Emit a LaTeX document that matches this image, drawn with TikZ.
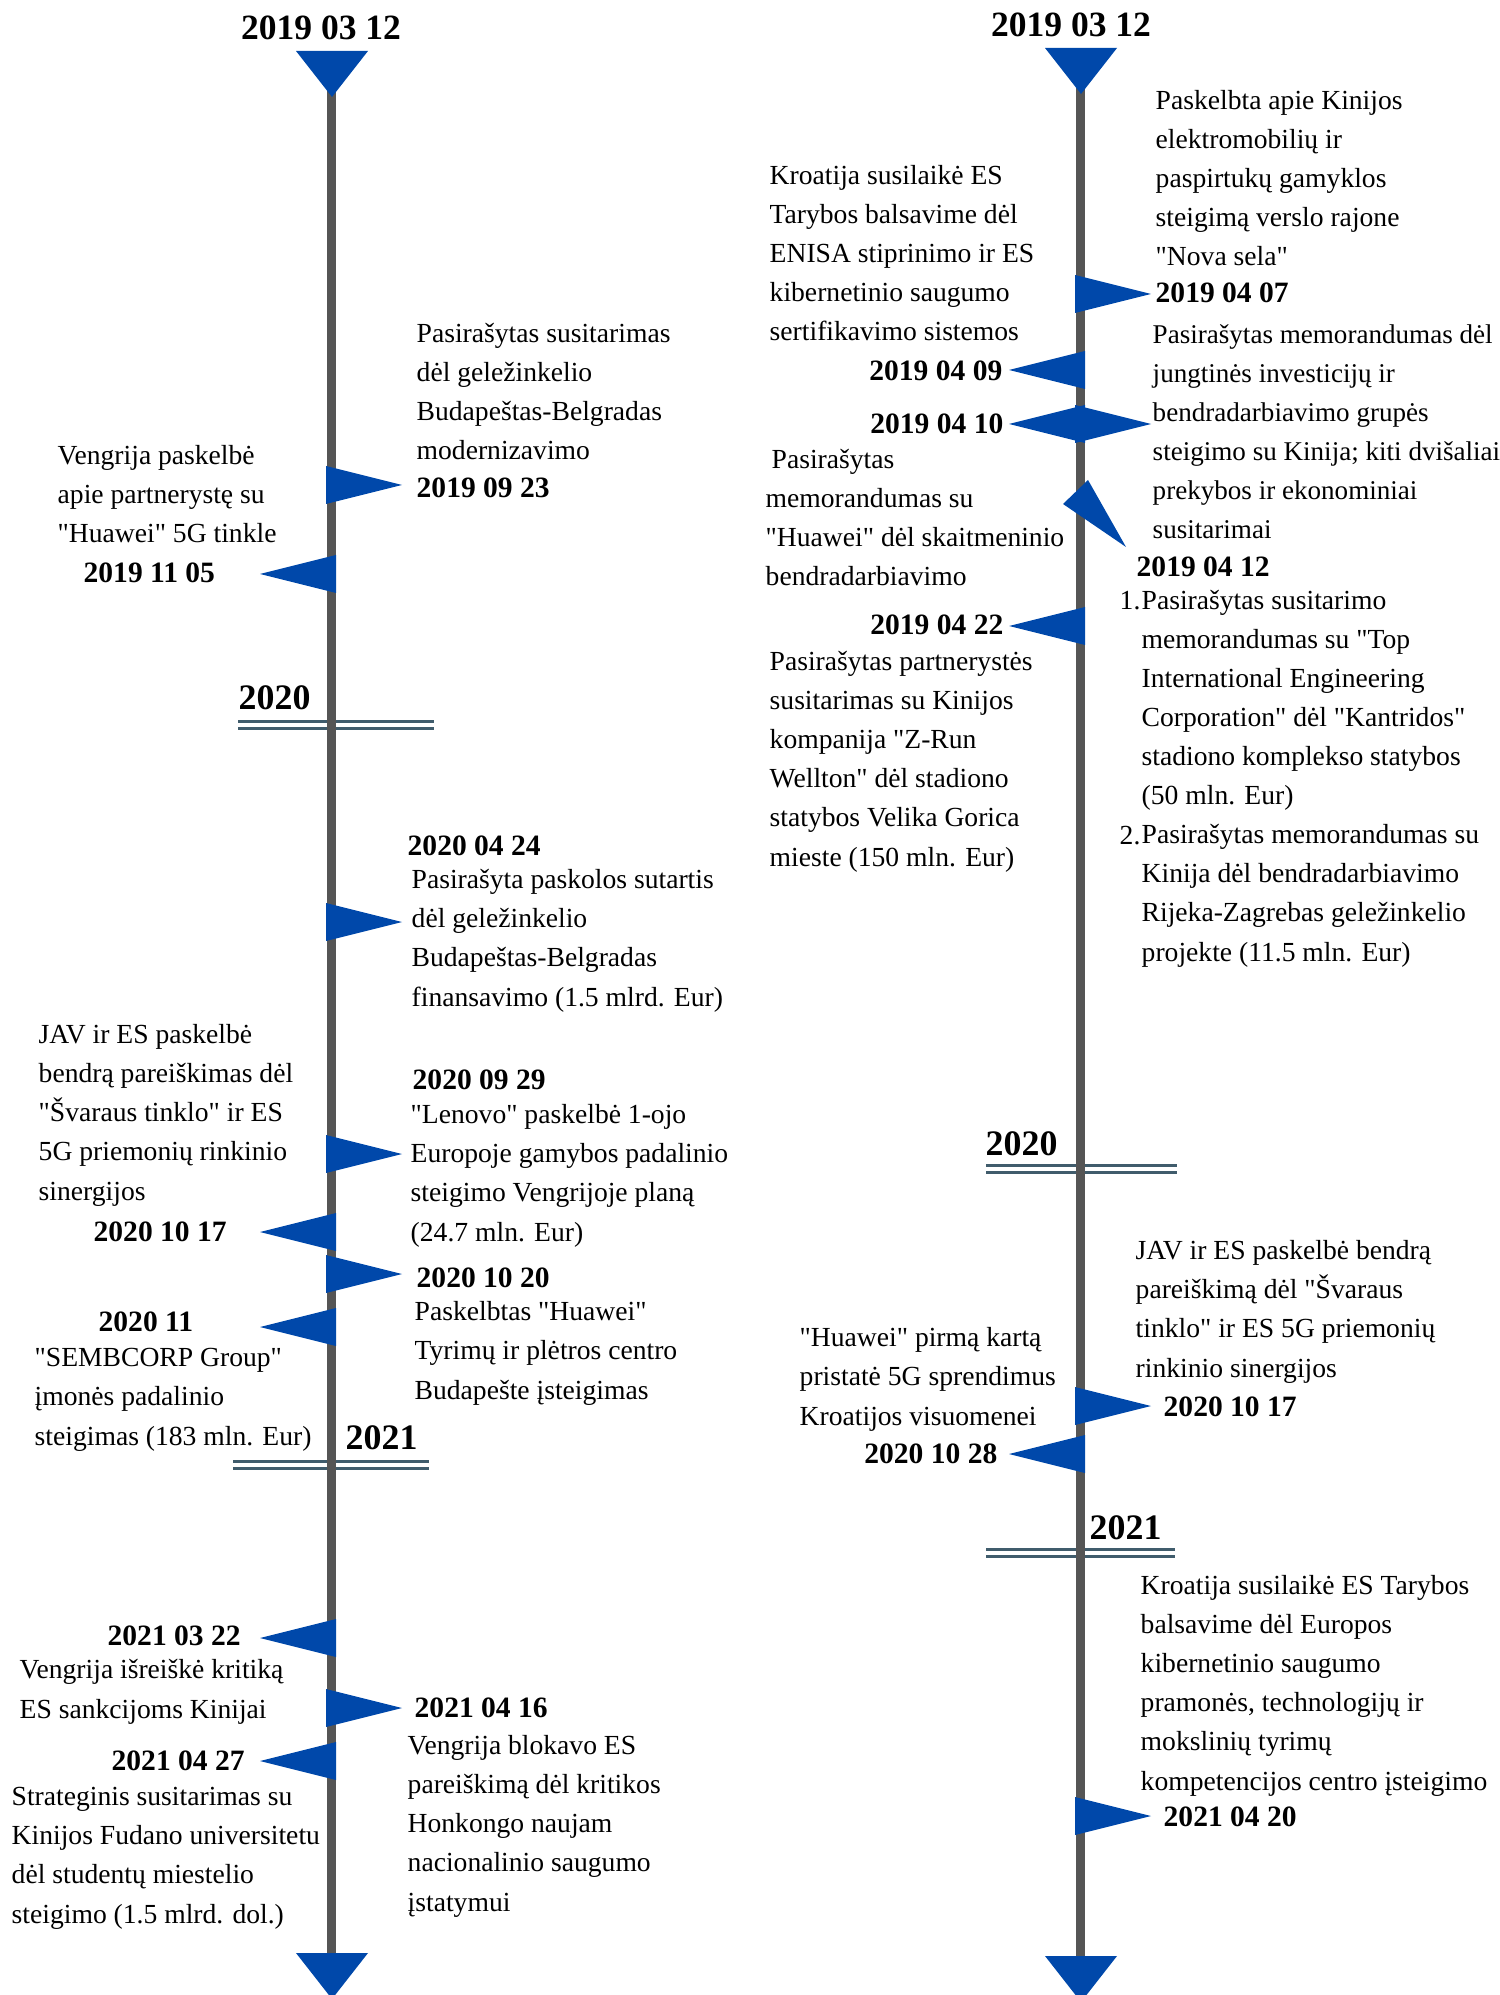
\documentclass[tikz,border=0pt]{standalone}
\usepackage{fontspec}
\setmainfont{Liberation Serif}

\definecolor{flagblue}{RGB}{0,72,170}
\definecolor{axisgray}{RGB}{85,85,85}
\definecolor{yearline}{RGB}{64,92,108}

\tikzset{
    axisline/.style={axisgray, line width=0.09cm},
    yearbar/.style={yearline, line width=0.03cm, double=white, double distance=0.045cm},
    evt/.style={font=\fontsize{7.85}{11.1}\selectfont, align=left, inner sep=0pt, anchor=base west},
    datelbl/.style={font=\fontsize{8.4}{10}\selectfont\bfseries, inner sep=0pt, anchor=base west},
    bigdate/.style={font=\fontsize{10.1}{12}\selectfont\bfseries, inner sep=0pt, anchor=base},
    yearlbl/.style={font=\fontsize{10.2}{12}\selectfont\bfseries, inner sep=0pt, anchor=base west}
}

% straight quote
\newcommand{\dq}{\textquotedbl}
% flags on an axis: #1 = axis x, #2 = y
\newcommand{\rflag}[2]{\fill[flagblue] (#1-5,#2-19) -- (#1+71,#2) -- (#1-5,#2+19) -- cycle;}
\newcommand{\lflag}[2]{\fill[flagblue] (#1+5,#2-19) -- (#1-71,#2) -- (#1+5,#2+19) -- cycle;}
\newcommand{\tipmark}[2]{\fill[flagblue] (#1-36,#2) -- (#1+36,#2) -- (#1,#2+46) -- cycle;}

\begin{document}
\begin{tikzpicture}[x=0.01cm, y=-0.01cm]
    \useasboundingbox (0,0) rectangle (1499,1995);

    % Year separators
    \draw[yearbar] (238,725) -- (434,725);
    \draw[yearbar] (233,1465) -- (429,1465);
    \draw[yearbar] (986,1169) -- (1177,1169);
    \draw[yearbar] (986,1553) -- (1175,1553);

    % Axes
    \draw[axisline] (331,90) -- (331,1960);
    \draw[axisline] (1080,88) -- (1080,1962);
    \tipmark{332}{51}
    \tipmark{332}{1953}
    \tipmark{1081}{48}
    \tipmark{1081}{1956}

    % Left flags
    \rflag{331}{485}
    \lflag{331}{574}
    \rflag{331}{922}
    \rflag{331}{1154}
    \lflag{331}{1232}
    \rflag{331}{1274}
    \lflag{331}{1327}
    \lflag{331}{1638}
    \rflag{331}{1708}
    \lflag{331}{1761}

    % Right flags
    \rflag{1080}{294}
    \lflag{1080}{370}
    \lflag{1080}{424}
    \rflag{1080}{424}
    \fill[flagblue] (1063,504) -- (1088,480) -- (1126,547) -- cycle;
    \lflag{1080}{626}
    \rflag{1080}{1406}
    \lflag{1080}{1454}
    \rflag{1080}{1816}

    % Left timeline labels (multi-line texts sit on their last line)
    \node[bigdate] (ltop) at (321,40) {2019 03 12};
    \node[evt] (lt0923) at (416,460) {Pasirašytas susitarimas\\dėl geležinkelio\\Budapeštas-Belgradas\\modernizavimo};
    \node[datelbl] (ld0923) at (416,498) {2019 09 23};
    \node[evt] (lt1105) at (57,543) {Vengrija paskelbė\\apie partnerystę su\\\dq Huawei\dq{} 5G tinkle};
    \node[datelbl] (ld1105) at (83,583) {2019 11 05};
    \node[yearlbl] (ly2020) at (238,709) {2020};
    \node[datelbl] (ld0424) at (407,855) {2020 04 24};
    \node[evt] (lt0424) at (411,1006) {Pasirašyta paskolos sutartis\\dėl geležinkelio\\Budapeštas-Belgradas\\finansavimo (1.5 mlrd. Eur)};
    \node[datelbl] (ld0929) at (412,1089) {2020 09 29};
    \node[evt] (lt0929) at (410,1241) {\dq Lenovo\dq{} paskelbė 1-ojo\\Europoje gamybos padalinio\\steigimo Vengrijoje planą\\(24.7 mln. Eur)};
    \node[evt] (lt1017) at (38,1200) {JAV ir ES paskelbė\\bendrą pareiškimas dėl\\\dq Švaraus tinklo\dq{} ir ES\\5G priemonių rinkinio\\sinergijos};
    \node[datelbl] (ld1017) at (93,1241) {2020 10 17};
    \node[datelbl] (ld1020) at (416,1287) {2020 10 20};
    \node[evt] (lt1020) at (414,1399) {Paskelbtas \dq Huawei\dq\\Tyrimų ir plėtros centro\\Budapešte įsteigimas};
    \node[datelbl] (ld11) at (98,1331) {2020 11};
    \node[evt] (lt11) at (34,1445) {\dq SEMBCORP Group\dq\\įmonės padalinio\\steigimas (183 mln. Eur)};
    \node[yearlbl] (ly2021) at (345,1449) {2021};
    \node[datelbl] (ld0322) at (107,1645) {2021 03 22};
    \node[evt] (lt0322) at (19,1718) {Vengrija išreiškė kritiką\\ES sankcijoms Kinijai};
    \node[datelbl] (ld0416) at (414,1717) {2021 04 16};
    \node[evt] (lt0416) at (407,1911) {Vengrija blokavo ES\\pareiškimą dėl kritikos\\Honkongo naujam\\nacionalinio saugumo\\įstatymui};
    \node[datelbl] (ld0427) at (111,1770) {2021 04 27};
    \node[evt] (lt0427) at (11,1923) {Strateginis susitarimas su\\Kinijos Fudano universitetu\\dėl studentų miestelio\\steigimo (1.5 mlrd. dol.)};

    % Right timeline labels
    \node[bigdate] (rtop) at (1071,37) {2019 03 12};
    \node[evt] (rt0407) at (1155,266) {Paskelbta apie Kinijos\\elektromobilių ir\\paspirtukų gamyklos\\steigimą verslo rajone\\\dq Nova sela\dq};
    \node[datelbl] (rd0407) at (1155,303) {2019 04 07};
    \node[evt] (rt0409) at (769,341) {Kroatija susilaikė ES\\Tarybos balsavime dėl\\ENISA stiprinimo ir ES\\kibernetinio saugumo\\sertifikavimo sistemos};
    \node[datelbl, anchor=base east] (rd0409) at (1003,381) {2019 04 09};
    \node[datelbl, anchor=base east] (rd0410) at (1004,434) {2019 04 10};
    \node[evt, font=\fontsize{7.7}{11.1}\selectfont] (rt0410) at (1152,539) {Pasirašytas memorandumas dėl\\jungtinės investicijų ir\\bendradarbiavimo grupės\\steigimo su Kinija; kiti dvišaliai\\prekybos ir ekonominiai\\susitarimai};
    \node[evt] (rt0412a) at (765,586) {\hspace*{0.06cm}Pasirašytas\\memorandumas su\\\dq Huawei\dq{} dėl skaitmeninio\\bendradarbiavimo};
    \node[datelbl] (rd0412) at (1136,577) {2019 04 12};
    \node[evt] (rn1) at (1119,610) {1.};
    \node[evt] (rt0412b) at (1141,961) {Pasirašytas susitarimo\\memorandumas su \dq Top\\International Engineering\\Corporation\dq{} dėl \dq Kantridos\dq\\stadiono komplekso statybos\\(50 mln. Eur)\\Pasirašytas memorandumas su\\Kinija dėl bendradarbiavimo\\Rijeka-Zagrebas geležinkelio\\projekte (11.5 mln. Eur)};
    \node[evt] (rn2) at (1119,844) {2.};
    \node[datelbl, anchor=base east] (rd0422) at (1004,635) {2019 04 22};
    \node[evt] (rt0422) at (769,866) {Pasirašytas partnerystės\\susitarimas su Kinijos\\kompanija \dq Z-Run\\Wellton\dq{} dėl stadiono\\statybos Velika Gorica\\mieste (150 mln. Eur)};
    \node[yearlbl] (ry2020) at (985,1155) {2020};
    \node[evt] (rt1017) at (1135,1377) {JAV ir ES paskelbė bendrą\\pareiškimą dėl \dq Švaraus\\tinklo\dq{} ir ES 5G priemonių\\rinkinio sinergijos};
    \node[datelbl] (rd1017) at (1163,1416) {2020 10 17};
    \node[evt] (rt1028) at (799,1425) {\dq Huawei\dq{} pirmą kartą\\pristatė 5G sprendimus\\Kroatijos visuomenei};
    \node[datelbl, anchor=base east] (rd1028) at (998,1463) {2020 10 28};
    \node[yearlbl] (ry2021) at (1089,1539) {2021};
    \node[evt] (rt0420) at (1140,1790) {Kroatija susilaikė ES Tarybos\\balsavime dėl Europos\\kibernetinio saugumo\\pramonės, technologijų ir\\mokslinių tyrimų\\kompetencijos centro įsteigimo};
    \node[datelbl] (rd0420) at (1163,1826) {2021 04 20};
\end{tikzpicture}
\end{document}
